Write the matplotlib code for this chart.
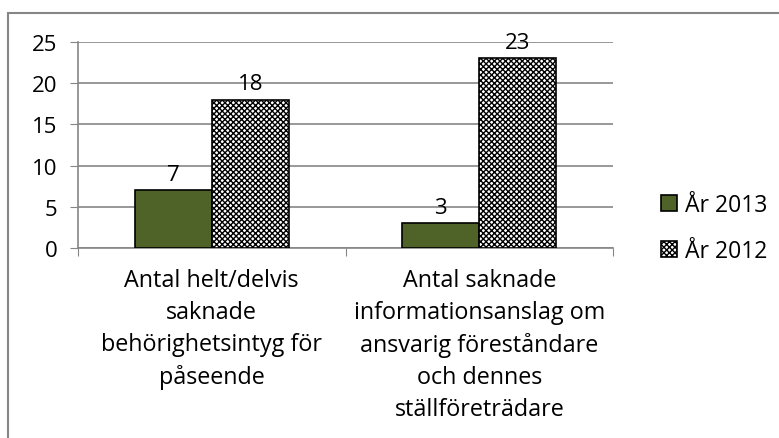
import matplotlib.pyplot as plt
import numpy as np
from matplotlib.patches import Rectangle

categories = ['Antal helt/delvis\nsaknade\nbehörighetsintyg för\npåseende',
              'Antal saknade\ninformationsanslag om\nansvarig föreståndare\noch dennes\nställföreträdare']
series_names = ['År 2013', 'År 2012']
values_2013 = [7, 3]
values_2012 = [18, 23]

plt.rcParams['font.family'] = ['Open Sans', 'DejaVu Sans']
plt.rcParams['hatch.linewidth'] = 1.0

fig = plt.figure(figsize=(7.79, 4.39), dpi=100)
ax = fig.add_axes([78 / 779, 1 - 249 / 439, 535 / 779, 206 / 439])

# outer chart border (bottom and right run off the image)
fig.patches.append(Rectangle((8 / 779, -0.1), 1.0, 1 - 14 / 439 + 0.1,
                             transform=fig.transFigure, fill=False,
                             edgecolor='#868686', linewidth=1.5))

x = np.arange(len(categories))
w = 0.288
b1 = ax.bar(x - w / 2, values_2013, w, color='#4f6228', edgecolor='black',
            linewidth=1.2, label=series_names[0], zorder=3)
b2 = ax.bar(x + w / 2, values_2012, w, color='white', edgecolor='black',
            hatch='xxxxxx', linewidth=1.2, label=series_names[1], zorder=3)

for bars in (b1, b2):
    for r in bars:
        ax.text(r.get_x() + r.get_width() / 2, r.get_height() + 0.7,
                str(int(r.get_height())), ha='center', va='bottom', fontsize=16)

ax.set_xlim(-0.5, 1.5)
ax.set_ylim(0, 25)
ax.set_yticks([0, 5, 10, 15, 20, 25])
ax.yaxis.grid(True, color='#868686', linewidth=1.2, zorder=0)
ax.set_axisbelow(True)
ax.tick_params(axis='y', labelsize=16, length=6, color='#868686', pad=9)

ax.set_xticks([-0.5, 0.5, 1.5])
ax.set_xticklabels([])
ax.tick_params(axis='x', length=6, color='#868686')
for xi, lab in zip(x, categories):
    ax.text(xi, -0.095, lab, transform=ax.get_xaxis_transform(), ha='center',
            va='top', fontsize=16.8, linespacing=1.45)

for s in ['top', 'right']:
    ax.spines[s].set_visible(False)
for s in ['left', 'bottom']:
    ax.spines[s].set_color('#868686')
    ax.spines[s].set_linewidth(1.2)

fig.legend(handles=[b1, b2], labels=series_names, loc='center left',
           bbox_to_anchor=(640 / 779, 1 - 229 / 439), frameon=False,
           fontsize=16.5, handlelength=0.7, handleheight=0.7, handletextpad=0.35,
           labelspacing=0.95)

fig.savefig('out.png', dpi=100)
